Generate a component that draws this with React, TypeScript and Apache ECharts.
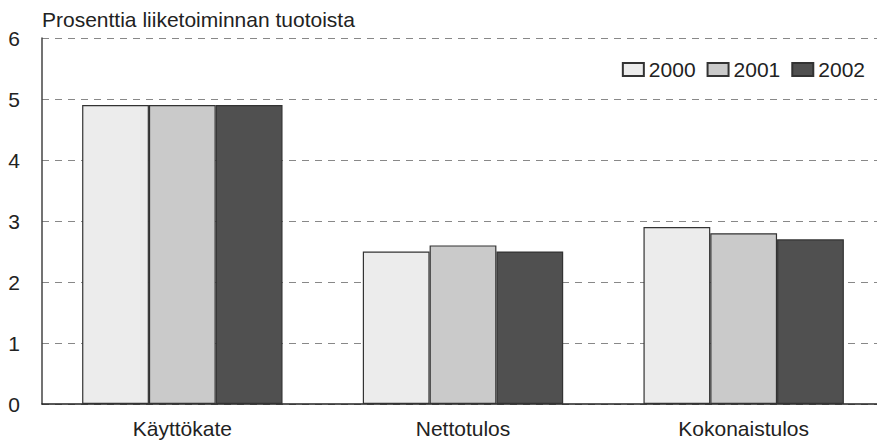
import React, { useEffect, useRef } from "react";
import * as echarts from "echarts";

const categories = ["Käyttökate", "Nettotulos", "Kokonaistulos"];
const years = ["2000", "2001", "2002"];
const values2000 = [4.9, 2.5, 2.9];
const values2001 = [4.9, 2.6, 2.8];
const values2002 = [4.9, 2.5, 2.7];
const colors = ["#ececec", "#cacaca", "#505050"];

export default function App() {
  const ref = useRef<HTMLDivElement>(null);
  useEffect(() => {
    if (!ref.current) return;
    const chart = echarts.init(ref.current, undefined, { renderer: "svg" });
    const font = "'Liberation Sans', Arial, sans-serif";
    const data = [values2000, values2001, values2002];
    chart.setOption({
      animation: false,
      textStyle: { fontFamily: font },
      title: {
        text: "Prosenttia liiketoiminnan tuotoista",
        left: 37,
        top: 4,
        textStyle: { fontSize: 21, fontWeight: "normal", color: "#222", fontFamily: font },
      },
      legend: {
        data: years,
        icon: "rect",
        right: 14,
        top: 54,
        itemWidth: 21,
        itemHeight: 13,
        itemGap: 11,
        textStyle: { fontSize: 21, color: "#222", fontFamily: font },
      },
      grid: { left: 42, right: 0, top: 38, bottom: 39, containLabel: false },
      xAxis: {
        type: "category",
        data: categories,
        axisLine: { show: true, lineStyle: { color: "#222", width: 1.5 } },
        axisTick: { show: false },
        axisLabel: { fontSize: 21, color: "#222", margin: 14, fontFamily: font },
      },
      yAxis: {
        type: "value",
        min: 0,
        max: 6,
        interval: 1,
        axisLine: { show: true, lineStyle: { color: "#444", width: 1.5 } },
        axisTick: { show: false },
        axisLabel: { fontSize: 21, color: "#222", margin: 28, fontFamily: font, align: "center" },
        splitLine: { show: true, lineStyle: { color: "#888", type: [7, 6], width: 1 } },
      },
      series: years.map((y, i) => ({
        name: y,
        type: "bar",
        data: data[i],
        barGap: "0%",
        barCategoryGap: "28.6%",
        itemStyle: { color: colors[i], borderColor: "#333", borderWidth: 1.2 },
      })),
    });
    return () => chart.dispose();
  }, []);
  return (
    <div style={{ position: "absolute", left: 0, top: 0, width: 877, height: 443, overflow: "hidden" }}>
      <div ref={ref} style={{ width: 884, height: 443 }} />
    </div>
  );
}
